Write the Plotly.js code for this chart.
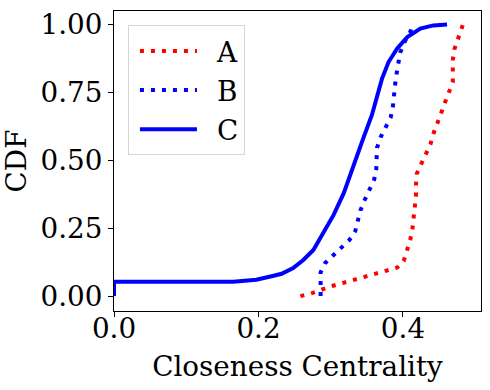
<!DOCTYPE html>
<html>
<head>
<meta charset="utf-8">
<script src="https://cdn.plot.ly/plotly-3.0.1.min.js"></script>
<style>html,body{margin:0;padding:0;background:#fff;}#chart{width:490px;height:390px;}</style>
</head>
<body>
<div id="chart"></div>
<script>
const seriesNames = ["A", "B", "C"];
const seriesColors = ["#ff0000", "#0000ff", "#0000ff"];

const A_x = [0.258, 0.274, 0.303, 0.332, 0.362, 0.392, 0.401, 0.406, 0.410, 0.413, 0.415, 0.417, 0.418, 0.418, 0.419, 0.425, 0.432, 0.438, 0.442, 0.448, 0.453, 0.458, 0.464, 0.469, 0.469, 0.469, 0.471, 0.476, 0.480, 0.483];
const A_y = [0.000, 0.011, 0.038, 0.060, 0.082, 0.105, 0.129, 0.168, 0.207, 0.246, 0.287, 0.327, 0.369, 0.409, 0.450, 0.485, 0.522, 0.559, 0.597, 0.636, 0.675, 0.712, 0.749, 0.788, 0.828, 0.869, 0.908, 0.946, 0.986, 1.000];

const B_x = [0.286, 0.286, 0.286, 0.292, 0.303, 0.314, 0.326, 0.334, 0.338, 0.341, 0.347, 0.353, 0.360, 0.363, 0.364, 0.364, 0.369, 0.376, 0.383, 0.386, 0.387, 0.389, 0.391, 0.393, 0.396, 0.403, 0.410, 0.414];
const B_y = [0.000, 0.048, 0.087, 0.121, 0.148, 0.178, 0.207, 0.240, 0.277, 0.315, 0.354, 0.391, 0.428, 0.467, 0.507, 0.546, 0.585, 0.621, 0.658, 0.697, 0.736, 0.777, 0.816, 0.857, 0.896, 0.940, 0.973, 1.000];

const C_x = [0.000, 0.000, 0.165, 0.197, 0.221, 0.232, 0.248, 0.262, 0.276, 0.290, 0.304, 0.318, 0.329, 0.340, 0.345, 0.357, 0.364, 0.371, 0.380, 0.392, 0.406, 0.424, 0.442, 0.461];
const C_y = [0.000, 0.053, 0.053, 0.060, 0.075, 0.082, 0.103, 0.133, 0.170, 0.232, 0.299, 0.379, 0.464, 0.538, 0.581, 0.667, 0.740, 0.801, 0.862, 0.912, 0.954, 0.985, 0.997, 1.000];

const xTicks = [0, 0.2, 0.4];
const xTickText = ["0.0", "0.2", "0.4"];
const yTicks = [0, 0.25, 0.5, 0.75, 1];
const yTickText = ["0.00", "0.25", "0.50", "0.75", "1.00"];

const FONT = "DejaVu Serif";
const FS = 27.8;

const traces = [
  {x: A_x, y: A_y, name: seriesNames[0], mode: "lines", line: {color: seriesColors[0], width: 4, dash: "4px,7px"}},
  {x: B_x, y: B_y, name: seriesNames[1], mode: "lines", line: {color: seriesColors[1], width: 4, dash: "4px,7px"}},
  {x: C_x, y: C_y, name: seriesNames[2], mode: "lines", line: {color: seriesColors[2], width: 4}}
];

const layout = {
  width: 490, height: 390,
  margin: {l: 114, r: 9, t: 11, b: 79},
  paper_bgcolor: "#fff", plot_bgcolor: "#fff",
  font: {family: FONT, size: FS, color: "#000"},
  showlegend: true,
  legend: {
    x: 0.038, y: 0.952, xanchor: "left", yanchor: "top",
    bgcolor: "rgba(255,255,255,0.8)", bordercolor: "#d6d6d6", borderwidth: 1,
    itemwidth: 78,
    font: {family: FONT, size: FS, color: "#000"}
  },
  xaxis: {
    range: [0, 0.508], tickvals: xTicks, ticktext: xTickText,
    ticks: "outside", ticklen: 5, tickwidth: 1, tickcolor: "#000",
    ticklabelstandoff: -12,
    showline: true, linecolor: "#000", linewidth: 1, mirror: true,
    showgrid: false, zeroline: false,
    title: {text: "Closeness Centrality", font: {family: FONT, size: FS}, standoff: 12}
  },
  yaxis: {
    range: [-0.055, 1.05], tickvals: yTicks, ticktext: yTickText,
    ticks: "outside", ticklen: 5, tickwidth: 1, tickcolor: "#000",
    showline: true, linecolor: "#000", linewidth: 1, mirror: true,
    showgrid: false, zeroline: false,
    title: {text: "CDF", font: {family: FONT, size: FS}, standoff: 8}
  }
};

Plotly.newPlot("chart", traces, layout, {staticPlot: true, displayModeBar: false}).then(function (gd) {
  // lengthen legend line samples to match the reference legend handles
  gd.querySelectorAll(".legend .legendlines path").forEach(function (p) {
    p.setAttribute("d", "M11,0h57");
  });
});
</script>
</body>
</html>
